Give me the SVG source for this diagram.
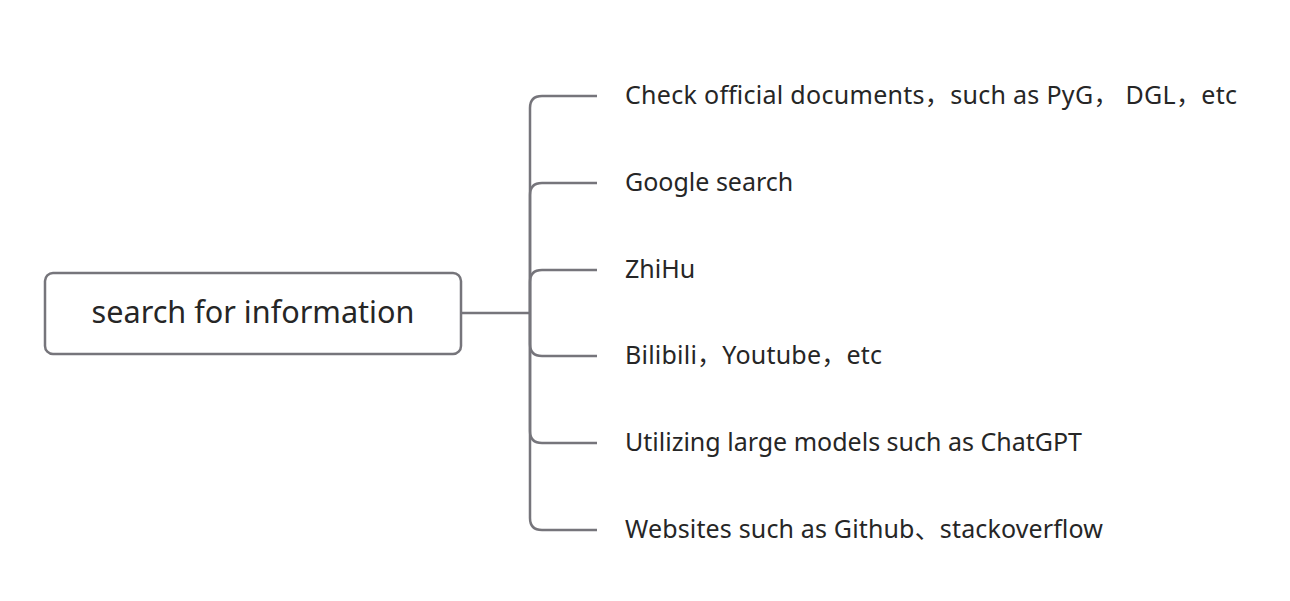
<svg xmlns="http://www.w3.org/2000/svg" width="1290" height="601" viewBox="0 0 1290 601">
<style>
.box{fill:#fff;stroke:#76757b;stroke-width:2.5}
.conn{fill:none;stroke:#76757b;stroke-width:2.5}
.t{font-family:"Noto Sans","Noto Sans CJK SC",sans-serif;fill:#262626;dominant-baseline:central}
.root{font-size:30.6px;text-anchor:middle}
.leaf{font-size:25px}
</style>
<rect width="1290" height="601" fill="#fff"/>
<g id="connectors">
<path class="conn" d="M461 313 H530"/>
<path class="conn" d="M530 313 V108 Q530 96 542 96 H597"/>
<path class="conn" d="M530 313 V195 Q530 183 542 183 H597"/>
<path class="conn" d="M530 313 V282 Q530 270 542 270 H597"/>
<path class="conn" d="M530 313 V344 Q530 356 542 356 H597"/>
<path class="conn" d="M530 313 V431 Q530 443 542 443 H597"/>
<path class="conn" d="M530 313 V518 Q530 530 542 530 H597"/>
</g>
<g id="root">
<rect class="box" x="45" y="273" width="416" height="81" rx="8"/>
<text class="t root" x="253" y="311">search for information</text>
</g>
<g id="n1"><text class="t leaf" x="625" y="94" textLength="612" lengthAdjust="spacing">Check official documents，such as PyG， DGL，etc</text></g>
<g id="n2"><text class="t leaf" x="625" y="181">Google search</text></g>
<g id="n3"><text class="t leaf" x="625" y="268">ZhiHu</text></g>
<g id="n4"><text class="t leaf" x="625" y="354" textLength="257" lengthAdjust="spacing">Bilibili，Youtube，etc</text></g>
<g id="n5"><text class="t leaf" x="625" y="441">Utilizing large models such as ChatGPT</text></g>
<g id="n6"><text class="t leaf" x="625" y="528" textLength="478" lengthAdjust="spacing">Websites such as Github、stackoverflow</text></g>
</svg>
